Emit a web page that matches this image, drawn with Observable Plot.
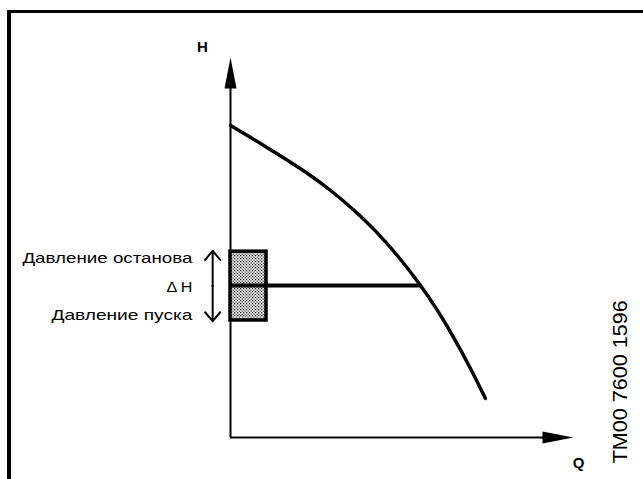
<!DOCTYPE html>
<html><head><meta charset="utf-8">
<script src="https://cdn.jsdelivr.net/npm/d3@7"></script>
<script src="https://cdn.jsdelivr.net/npm/@observablehq/plot@0.6"></script>
<style>
html,body{margin:0;padding:0;background:#fff;overflow:hidden;width:643px;height:479px}
#wrap{position:relative;width:643px;height:479px}
#frame{position:absolute;left:7px;top:10px;width:700px;height:520px;border-top:3.5px solid #000;border-left:4px solid #000;box-sizing:border-box;pointer-events:none}
#chart{position:absolute;left:0;top:0}
</style>
</head><body>
<div id="wrap"><div id="chart"></div><div id="frame"></div></div>
<script>
// Pump curve H(Q), arbitrary units
const qCurve = [0, 1.05, 2.13, 2.92, 3.6, 4.23, 4.9, 5.54, 6.0, 6.47, 7.0, 7.43];
const hCurve = [8.21, 7.64, 7.02, 6.50, 5.98, 5.43, 4.75, 4.0, 3.39, 2.69, 1.81, 1.03];
// Pressure switch band
const hStart = 3.08;   // start (cut-in) pressure
const hStop = 4.89;    // stop (cut-out) pressure
const hOp = 4.0;       // operating point
const qOp = 5.54;
const boxQ = [0, 1.05];
const labels = ["Давление останова", "\u0394 H", "Давление пуска"];
const labelH = [4.71, 3.95, 3.21];
const labelWidths = [170, 26, 141];
const axisTitles = ["H", "Q"];
const code = "TM00 7600 1596";

const arrowHead = {
  draw(ctx, size) {
    ctx.moveTo(0, 0);
    ctx.lineTo(6, 31);
    ctx.lineTo(-6, 31);
    ctx.closePath();
  }
};

const curve = qCurve.map((q, i) => ({q, h: hCurve[i]}));
const labelData = labels.map((t, i) => ({t, h: labelH[i]}));

const font = "'Liberation Sans', Arial, Helvetica, sans-serif";

const plot = Plot.plot({
  width: 643, height: 479,
  marginLeft: 230, marginRight: 70, marginTop: 57, marginBottom: 42,
  x: {domain: [0, 10], axis: null},
  y: {domain: [0, 10], axis: null},
  style: {background: "transparent", overflow: "visible"},
  marks: [
    // axes
    Plot.ruleX([0], {y1: 0, y2: 9.3, stroke: "#000", strokeWidth: 2}),
    Plot.ruleY([0], {x1: 0, x2: 9.3, stroke: "#000", strokeWidth: 2}),
    Plot.dot([{q: 0, h: 10}], {x: "q", y: "h", symbol: arrowHead, fill: "#000", stroke: "none", r: 5}),
    Plot.dot([{q: 10, h: 0}], {x: "q", y: "h", symbol: arrowHead, fill: "#000", stroke: "none", r: 5, rotate: 90}),
    // pressure band
    Plot.rect([{}], {x1: boxQ[0], x2: boxQ[1], y1: hStart, y2: hStop, fill: "url(#stipple)", stroke: "#000", strokeWidth: 3.5}),
    // operating line
    Plot.ruleY([hOp], {x1: 0, x2: qOp, stroke: "#000", strokeWidth: 4}),
    // pump curve
    Plot.line(curve, {x: "q", y: "h", curve: "natural", stroke: "#000", strokeWidth: 3.5}),
    // double arrow
    Plot.arrow([{y1: (hStart + hStop) / 2, y2: hStop + 0.02}, {y1: (hStart + hStop) / 2, y2: hStart - 0.02}], {
      x1: -0.52, x2: -0.52, y1: "y1", y2: "y2", stroke: "#000", strokeWidth: 2, headLength: 12, headAngle: 80, bend: 0, insetEnd: 0
    }),
    // labels
    Plot.text(labelData, {x: -1.11, y: "h", text: "t", textAnchor: "end", fontSize: 15, fill: "#000", fontFamily: font}),
    Plot.text([axisTitles[0]], {x: -0.82, y: 10.26, text: d => d, fontSize: 15, fontWeight: "bold", fill: "#000", fontFamily: font}),
    Plot.text([axisTitles[1]], {x: 10.15, y: -0.68, text: d => d, fontSize: 15, fontWeight: "bold", fill: "#000", fontFamily: font}),
    Plot.text([code], {x: 11.37, y: -0.68, text: d => d, rotate: -90, textAnchor: "start", fontSize: 21, fill: "#000", fontFamily: font})
  ]
});

// stipple pattern definition
const ns = "http://www.w3.org/2000/svg";
const defs = document.createElementNS(ns, "defs");
defs.innerHTML = '<pattern id="stipple" patternUnits="userSpaceOnUse" width="3" height="3">' +
  '<rect width="3" height="3" fill="#fff"/>' +
  '<rect x="0" y="0" width="1.2" height="1.2" fill="#000"/>' +
  '<rect x="1.5" y="1.5" width="1.2" height="1.2" fill="#000"/></pattern>';
plot.insertBefore(defs, plot.firstChild);

// fit text widths to the reference lettering
const widths = new Map(labels.map((t, i) => [t, labelWidths[i]]));
widths.set(code, 163);
plot.querySelectorAll("text").forEach(el => {
  const w = widths.get(el.textContent);
  if (w) { el.setAttribute("textLength", w); el.setAttribute("lengthAdjust", "spacingAndGlyphs"); }
});
document.getElementById("chart").appendChild(plot);
</script>
</body></html>
